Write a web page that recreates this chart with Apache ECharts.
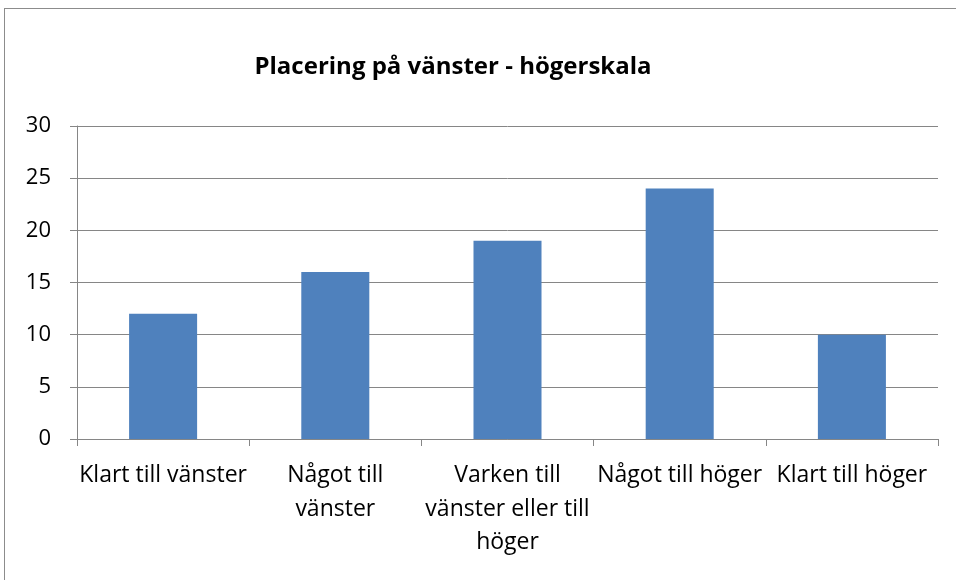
<!DOCTYPE html>
<html><head><meta charset="utf-8">
<script src="https://cdn.jsdelivr.net/npm/echarts@6/dist/echarts.min.js"></script>
<style>
html,body{margin:0;padding:0;background:#fff;overflow:hidden}
#frame{position:absolute;left:4px;top:8px;width:970px;height:600px;border:1.5px solid #8c8c8c;box-sizing:border-box}
#chart{position:absolute;left:0;top:0;width:956px;height:580px}
</style></head>
<body>
<div id="frame"></div>
<div id="chart"></div>
<script>
const titleText = "Placering på vänster - högerskala";
const categories = ["Klart till vänster", "Något till\nvänster", "Varken till\nvänster eller till\nhöger", "Något till höger", "Klart till höger"];
const values = [12, 16, 19, 24, 10];
const yTicks = [0, 5, 10, 15, 20, 25, 30];

const chart = echarts.init(document.getElementById('chart'), null, {renderer: 'canvas'});
const font = "'Open Sans', sans-serif";
chart.setOption({
  animation: false,
  title: {
    text: titleText, left: 448, top: 50, textAlign: 'center',
    textStyle: {fontFamily: font, fontSize: 24, fontWeight: 'bold', color: '#000'}
  },
  grid: {left: 77, right: 18, top: 126, bottom: 141, containLabel: false},
  xAxis: {
    type: 'category', data: categories,
    axisLine: {lineStyle: {color: '#868686', width: 1}},
    axisTick: {show: true, length: 7, lineStyle: {color: '#868686'}},
    axisLabel: {fontFamily: font, fontSize: 23, color: '#000', margin: 20, lineHeight: 33.5, interval: 0}
  },
  yAxis: {
    type: 'value', min: yTicks[0], max: yTicks[yTicks.length - 1], interval: 5,
    axisLine: {show: true, lineStyle: {color: '#868686', width: 1}},
    axisTick: {show: true, length: 7, lineStyle: {color: '#868686'}},
    splitLine: {lineStyle: {color: '#868686', width: 1}},
    axisLabel: {fontFamily: font, fontSize: 22, color: '#000', margin: 26}
  },
  series: [{
    type: 'bar', data: values, barWidth: '39.5%',
    itemStyle: {color: '#4F81BD'}
  }]
});
</script>
</body></html>
